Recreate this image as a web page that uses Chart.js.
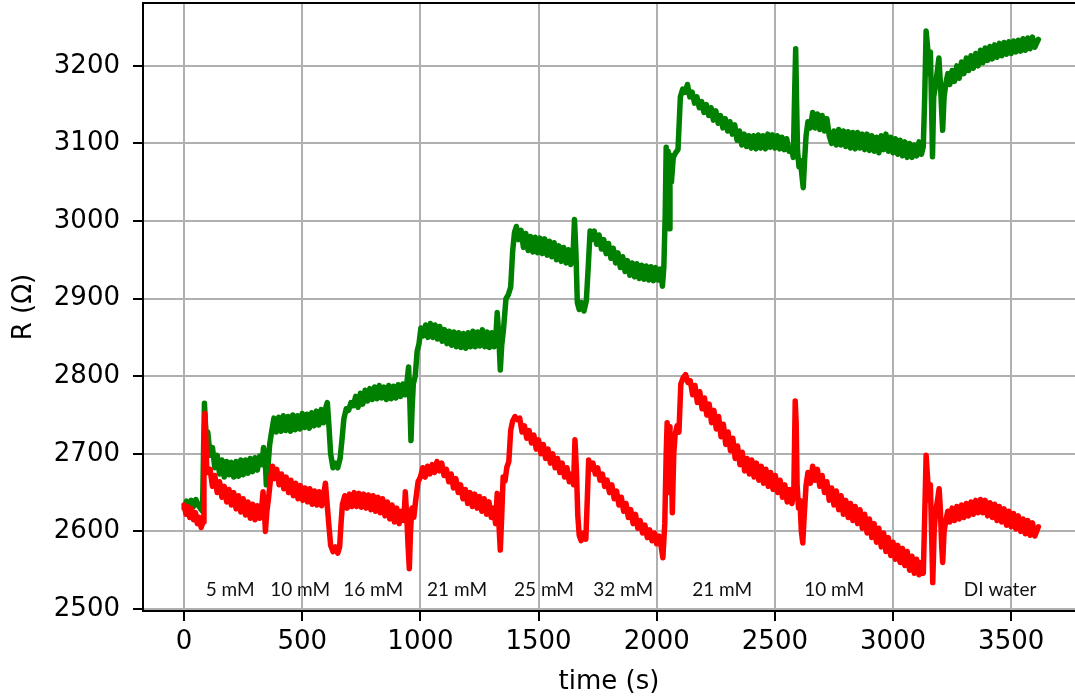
<!DOCTYPE html>
<html>
<head>
<meta charset="utf-8">
<script src="https://cdn.jsdelivr.net/npm/chart.js@4.4.1/dist/chart.umd.min.js"></script>
<style>
  html, body { margin: 0; padding: 0; background: #fff; }
  #chart { display: block; }
</style>
</head>
<body>
<canvas id="chart" width="1075" height="700"></canvas>
<script>
// Resistance traces: [time (s), R (ohm)]
const greenTrace = [
  [0,2630],[10,2639],[20,2631],[30,2640],[40,2632],[50,2641],[60,2634],[70,2629],[78,2626],[82,2700],
  [86,2765],[90,2740],[95,2712],[100,2728],[110,2698],[120,2708],[130,2682],[140,2698],[150,2674],[160,2692],
  [170,2670],[180,2690],[190,2673],[200,2689],[210,2670],[220,2690],[230,2671],[240,2692],[250,2673],[260,2692],
  [270,2675],[280,2694],[290,2677],[300,2695],[310,2679],[320,2697],[330,2686],[336,2708],[342,2700],[348,2660],
  [354,2680],[362,2712],[370,2728],[380,2746],[390,2728],[400,2747],[410,2729],[420,2749],[430,2730],[440,2748],
  [450,2729],[460,2750],[470,2731],[480,2749],[490,2732],[500,2752],[510,2734],[520,2751],[530,2733],[540,2753],
  [550,2736],[560,2755],[570,2737],[580,2757],[590,2740],[600,2760],[606,2766],[612,2740],[620,2700],[630,2682],
  [640,2688],[650,2682],[660,2694],[668,2718],[676,2745],[686,2758],[696,2756],[706,2766],[716,2762],[726,2774],
  [736,2760],[746,2778],[756,2764],[766,2782],[776,2768],[786,2784],[796,2770],[806,2786],[816,2771],[826,2788],
  [836,2772],[846,2786],[856,2770],[866,2788],[876,2771],[886,2787],[896,2772],[906,2789],[916,2774],[926,2790],
  [936,2776],[944,2795],[950,2812],[955,2770],[960,2717],[965,2760],[970,2790],[978,2800],[986,2832],[994,2842],
  [1002,2862],[1012,2852],[1022,2866],[1032,2850],[1042,2868],[1052,2850],[1062,2866],[1072,2848],[1082,2864],[1092,2845],
  [1102,2860],[1112,2842],[1122,2858],[1132,2840],[1142,2857],[1152,2838],[1162,2856],[1172,2837],[1182,2855],[1192,2836],
  [1202,2856],[1212,2838],[1222,2858],[1232,2838],[1242,2857],[1252,2839],[1262,2860],[1272,2838],[1282,2857],[1292,2837],
  [1302,2856],[1312,2838],[1318,2846],[1325,2882],[1332,2850],[1338,2808],[1344,2840],[1352,2862],[1362,2900],[1372,2905],
  [1382,2915],[1390,2960],[1398,2985],[1406,2993],[1416,2976],[1426,2988],[1436,2966],[1446,2984],[1456,2962],[1466,2980],
  [1476,2960],[1486,2979],[1496,2959],[1506,2978],[1516,2958],[1526,2977],[1536,2956],[1546,2974],[1556,2954],[1566,2972],
  [1576,2950],[1586,2968],[1596,2948],[1606,2966],[1616,2946],[1626,2963],[1636,2944],[1646,2958],[1652,3002],[1658,2960],
  [1664,2895],[1672,2886],[1682,2895],[1692,2884],[1702,2897],[1710,2940],[1718,2987],[1726,2976],[1736,2987],[1746,2970],
  [1756,2982],[1766,2964],[1776,2976],[1786,2958],[1796,2971],[1806,2952],[1816,2965],[1826,2946],[1836,2959],[1846,2940],
  [1856,2954],[1866,2935],[1876,2949],[1886,2930],[1896,2946],[1906,2928],[1916,2945],[1926,2926],[1936,2943],[1946,2925],
  [1956,2942],[1966,2924],[1976,2941],[1986,2923],[1996,2940],[2006,2924],[2016,2938],[2024,2916],[2030,2940],[2036,3010],
  [2040,3095],[2044,3000],[2048,3090],[2052,2990],[2056,3085],[2062,3050],[2070,3082],[2080,3088],[2090,3092],[2100,3160],
  [2110,3170],[2120,3166],[2130,3176],[2140,3160],[2150,3166],[2160,3152],[2170,3160],[2180,3146],[2190,3154],[2200,3140],
  [2210,3150],[2220,3136],[2230,3146],[2240,3130],[2250,3142],[2260,3126],[2270,3136],[2280,3120],[2290,3132],[2300,3116],
  [2310,3128],[2320,3112],[2330,3124],[2340,3104],[2350,3116],[2360,3098],[2370,3112],[2380,3096],[2390,3110],[2400,3094],
  [2410,3110],[2420,3093],[2430,3111],[2440,3094],[2450,3110],[2460,3093],[2470,3112],[2480,3095],[2490,3111],[2500,3094],
  [2510,3110],[2520,3093],[2530,3108],[2540,3092],[2550,3106],[2560,3090],[2570,3094],[2578,3082],[2584,3170],[2588,3222],
  [2592,3150],[2596,3090],[2602,3070],[2608,3078],[2614,3060],[2620,3043],[2626,3080],[2632,3110],[2640,3128],[2650,3120],
  [2660,3140],[2670,3120],[2680,3138],[2690,3118],[2700,3136],[2710,3116],[2720,3132],[2730,3110],[2740,3100],[2750,3116],
  [2760,3098],[2770,3118],[2780,3098],[2790,3116],[2800,3096],[2810,3115],[2820,3094],[2830,3114],[2840,3093],[2850,3114],
  [2860,3094],[2870,3112],[2880,3092],[2890,3112],[2900,3091],[2910,3110],[2920,3090],[2930,3108],[2940,3088],[2950,3110],
  [2960,3092],[2970,3112],[2980,3090],[2990,3108],[3000,3088],[3010,3106],[3020,3086],[3030,3104],[3040,3084],[3050,3102],
  [3060,3082],[3070,3100],[3080,3082],[3090,3098],[3100,3084],[3110,3102],[3120,3086],[3128,3096],[3134,3160],[3140,3245],
  [3146,3225],[3152,3190],[3158,3218],[3163,3150],[3167,3083],[3172,3160],[3180,3175],[3188,3195],[3194,3210],[3200,3180],
  [3206,3140],[3210,3117],[3216,3160],[3224,3178],[3232,3190],[3240,3176],[3250,3194],[3260,3180],[3270,3200],[3280,3184],
  [3290,3205],[3300,3190],[3310,3210],[3320,3194],[3330,3213],[3340,3197],[3350,3216],[3360,3200],[3370,3220],[3380,3204],
  [3390,3223],[3400,3207],[3410,3225],[3420,3209],[3430,3227],[3440,3211],[3450,3229],[3460,3213],[3470,3230],[3480,3215],
  [3490,3231],[3500,3216],[3510,3232],[3520,3218],[3530,3233],[3540,3219],[3550,3235],[3560,3220],[3570,3236],[3580,3222],
  [3590,3237],[3600,3224],[3615,3234]
];

const redTrace = [
  [0,2634],[8,2622],[16,2632],[24,2618],[32,2629],[40,2615],[48,2624],[56,2610],[64,2618],[72,2605],
  [80,2612],[84,2690],[88,2752],[92,2720],[96,2676],[102,2676],[110,2680],[120,2658],[130,2672],[140,2650],
  [150,2664],[160,2644],[170,2658],[180,2638],[190,2654],[200,2634],[210,2650],[220,2629],[230,2646],[240,2625],
  [250,2642],[260,2621],[270,2638],[280,2617],[290,2635],[300,2615],[310,2633],[320,2617],[328,2630],[334,2651],
  [340,2625],[344,2600],[350,2625],[358,2645],[366,2668],[374,2684],[382,2668],[392,2680],[402,2660],[412,2674],
  [422,2655],[432,2670],[442,2650],[452,2666],[462,2646],[472,2662],[482,2642],[492,2659],[502,2640],[512,2656],
  [522,2638],[532,2655],[542,2635],[552,2652],[562,2634],[572,2651],[582,2633],[592,2650],[598,2662],[604,2640],
  [612,2610],[620,2582],[630,2574],[640,2580],[650,2572],[658,2580],[664,2610],[670,2635],[680,2646],[690,2630],
  [700,2648],[710,2632],[720,2650],[730,2632],[740,2649],[750,2631],[760,2648],[770,2630],[780,2647],[790,2628],
  [800,2646],[810,2626],[820,2644],[830,2624],[840,2642],[850,2620],[860,2638],[870,2616],[880,2634],[890,2612],
  [900,2630],[910,2610],[920,2626],[930,2614],[936,2651],[942,2620],[948,2580],[953,2552],[958,2600],[964,2630],
  [972,2618],[980,2640],[990,2664],[1000,2670],[1010,2682],[1020,2670],[1030,2684],[1040,2674],[1050,2686],[1060,2676],
  [1070,2690],[1080,2678],[1090,2688],[1100,2672],[1110,2680],[1120,2664],[1130,2674],[1140,2656],[1150,2668],[1160,2650],
  [1170,2660],[1180,2642],[1190,2654],[1200,2636],[1210,2650],[1220,2632],[1230,2648],[1240,2630],[1250,2645],[1260,2626],
  [1270,2642],[1280,2622],[1290,2638],[1300,2618],[1310,2630],[1318,2610],[1325,2649],[1332,2610],[1338,2576],[1344,2620],
  [1350,2670],[1358,2665],[1366,2683],[1374,2690],[1382,2730],[1390,2742],[1400,2748],[1410,2744],[1420,2746],[1430,2728],
  [1440,2736],[1450,2720],[1460,2730],[1470,2714],[1480,2724],[1490,2706],[1500,2718],[1510,2700],[1520,2712],[1530,2694],
  [1540,2706],[1550,2688],[1560,2700],[1570,2682],[1580,2694],[1590,2676],[1600,2688],[1610,2670],[1620,2682],[1630,2664],
  [1640,2674],[1648,2660],[1654,2718],[1660,2680],[1666,2620],[1672,2595],[1680,2588],[1690,2598],[1700,2590],[1706,2640],
  [1712,2692],[1720,2680],[1730,2688],[1740,2674],[1750,2682],[1760,2666],[1770,2674],[1780,2658],[1790,2666],[1800,2650],
  [1810,2660],[1820,2642],[1830,2652],[1840,2634],[1850,2644],[1860,2626],[1870,2636],[1880,2618],[1890,2628],[1900,2610],
  [1910,2622],[1920,2604],[1930,2614],[1940,2598],[1950,2608],[1960,2592],[1970,2602],[1980,2588],[1990,2598],[2000,2584],
  [2010,2594],[2018,2582],[2026,2566],[2034,2610],[2040,2700],[2044,2740],[2048,2690],[2052,2735],[2056,2650],[2060,2720],
  [2066,2624],[2072,2700],[2078,2725],[2086,2736],[2094,2728],[2102,2790],[2112,2798],[2122,2802],[2132,2792],[2142,2794],
  [2152,2776],[2162,2788],[2172,2766],[2182,2780],[2192,2758],[2202,2772],[2212,2750],[2222,2764],[2232,2740],[2242,2756],
  [2252,2732],[2262,2748],[2272,2722],[2282,2738],[2292,2712],[2302,2728],[2312,2704],[2322,2720],[2332,2694],[2342,2710],
  [2352,2686],[2362,2702],[2372,2678],[2382,2694],[2392,2674],[2402,2692],[2412,2670],[2422,2688],[2432,2666],[2442,2684],
  [2452,2662],[2462,2680],[2472,2658],[2482,2676],[2492,2654],[2502,2672],[2512,2650],[2522,2666],[2532,2644],[2542,2660],
  [2552,2638],[2562,2654],[2572,2636],[2580,2650],[2586,2768],[2590,2740],[2594,2660],[2600,2630],[2606,2640],[2612,2600],
  [2618,2585],[2624,2620],[2632,2660],[2640,2676],[2650,2662],[2660,2684],[2670,2666],[2680,2680],[2690,2658],[2700,2672],
  [2710,2650],[2720,2664],[2730,2640],[2740,2656],[2750,2634],[2760,2652],[2770,2628],[2780,2646],[2790,2622],[2800,2640],
  [2810,2618],[2820,2636],[2830,2614],[2840,2632],[2850,2610],[2860,2628],[2870,2604],[2880,2622],[2890,2598],[2900,2616],
  [2910,2592],[2920,2610],[2930,2586],[2940,2604],[2950,2580],[2960,2598],[2970,2574],[2980,2592],[2990,2569],[3000,2586],
  [3010,2564],[3020,2582],[3030,2560],[3040,2578],[3050,2556],[3060,2574],[3070,2550],[3080,2568],[3090,2546],[3100,2564],
  [3110,2544],[3120,2560],[3128,2546],[3134,2620],[3140,2698],[3146,2670],[3152,2640],[3158,2660],[3163,2600],[3168,2534],
  [3174,2600],[3180,2625],[3188,2640],[3195,2655],[3200,2630],[3206,2580],[3210,2560],[3216,2600],[3224,2615],[3232,2626],
  [3240,2612],[3250,2630],[3260,2614],[3270,2632],[3280,2616],[3290,2634],[3300,2618],[3310,2636],[3320,2620],[3330,2638],
  [3340,2622],[3350,2640],[3360,2624],[3370,2641],[3380,2624],[3390,2640],[3400,2620],[3410,2637],[3420,2618],[3430,2635],
  [3440,2614],[3450,2632],[3460,2612],[3470,2629],[3480,2608],[3490,2626],[3500,2606],[3510,2623],[3520,2603],[3530,2620],
  [3540,2600],[3550,2616],[3560,2597],[3570,2614],[3580,2595],[3590,2611],[3600,2594],[3615,2606]
];

const xTicks = [0, 500, 1000, 1500, 2000, 2500, 3000, 3500];
const yTicks = [2500, 2600, 2700, 2800, 2900, 3000, 3100, 3200];

// concentration steps written under the traces
const concLabels = ['5 mM', '10 mM', '16 mM', '21 mM', '25 mM', '32 mM', '21 mM', '10 mM', 'DI water'];
const concTimes = [195, 491, 800, 1155, 1523, 1858, 2277, 2751, 3453];
const concLevel = 2524;

const tickFont = { family: 'DejaVu Sans', size: 26 };
const gridColor = '#b0b0b0';

// top spine + concentration labels
const extrasPlugin = {
    id: 'extras',
    afterDraw(chart) {
        const ctx = chart.ctx;
        const area = chart.chartArea;
        const xs = chart.scales.x;
        const ys = chart.scales.y;

        ctx.save();
        ctx.strokeStyle = '#000';
        ctx.lineWidth = 2;
        ctx.beginPath();
        ctx.moveTo(area.left, area.top);
        ctx.lineTo(area.right, area.top);
        ctx.stroke();

        ctx.fillStyle = '#111';
        ctx.font = '19px Lato';
        ctx.textAlign = 'center';
        ctx.textBaseline = 'middle';
        concLabels.forEach((txt, i) => {
            ctx.fillText(txt, xs.getPixelForValue(concTimes[i]), ys.getPixelForValue(concLevel));
        });
        ctx.restore();
    }
};

const ctx = document.getElementById('chart').getContext('2d');
new Chart(ctx, {
    type: 'line',
    data: {
        datasets: [
            {
                label: 'red',
                data: redTrace.map(p => ({ x: p[0], y: p[1] })),
                borderColor: '#ff0000',
                borderWidth: 5.5,
                pointRadius: 0,
                tension: 0,
                borderJoinStyle: 'round',
                borderCapStyle: 'round'
            },
            {
                label: 'green',
                data: greenTrace.map(p => ({ x: p[0], y: p[1] })),
                borderColor: '#008000',
                borderWidth: 5.5,
                pointRadius: 0,
                tension: 0,
                borderJoinStyle: 'round',
                borderCapStyle: 'round'
            }
        ]
    },
    options: {
        responsive: false,
        animation: false,
        layout: { padding: { top: 3, right: 0, left: 0, bottom: 0 } },
        plugins: {
            legend: { display: false },
            tooltip: { enabled: false }
        },
        scales: {
            x: {
                type: 'linear',
                min: -174,
                max: 3770,
                afterBuildTicks: scale => { scale.ticks = xTicks.map(v => ({ value: v })); },
                afterFit: scale => {
                    scale.height = 89;
                    scale.paddingLeft = 0;
                    scale.paddingRight = 0;
                },
                ticks: { font: tickFont, color: '#000', padding: 6, maxRotation: 0, callback: v => String(v) },
                grid: { color: gridColor, lineWidth: 2, tickLength: 10, tickColor: '#000', tickWidth: 2 },
                border: { display: true, color: '#000', width: 2 },
                title: {
                    display: true,
                    text: 'time (s)',
                    font: { family: 'DejaVu Sans', size: 26 },
                    color: '#000',
                    padding: { top: 0, bottom: 2 }
                }
            },
            y: {
                type: 'linear',
                min: 2497.4,
                max: 3281,
                afterBuildTicks: scale => { scale.ticks = yTicks.map(v => ({ value: v })); },
                afterFit: scale => {
                    scale.width = 143;
                    scale.paddingTop = 0;
                    scale.paddingBottom = 0;
                },
                ticks: { font: tickFont, color: '#000', padding: 13, callback: v => String(v) },
                grid: { color: gridColor, lineWidth: 2, tickLength: 10, tickColor: '#000', tickWidth: 2 },
                border: { display: true, color: '#000', width: 2 },
                title: {
                    display: true,
                    text: 'R (Ω)',
                    font: { family: 'DejaVu Sans', size: 26 },
                    color: '#000',
                    padding: { top: 9, bottom: 0 }
                }
            }
        }
    },
    plugins: [extrasPlugin]
});
</script>
</body>
</html>
